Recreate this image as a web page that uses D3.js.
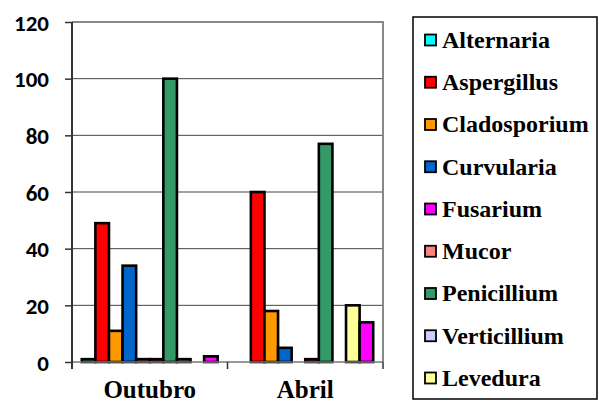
<!DOCTYPE html>
<html><head><meta charset="utf-8">
<script src="https://cdn.jsdelivr.net/npm/d3@7/dist/d3.min.js"></script>
<style>
body{margin:0;background:#fff;}
svg text.serif{font-family:"Liberation Serif","Times New Roman",serif !important;font-weight:bold !important;}
svg text.calib{font-family:Carlito,"Liberation Sans",sans-serif !important;font-weight:bold !important;}
</style>
</head><body>
<svg id="c" width="599" height="403"></svg>
<script>
const categories = ["Outubro", "Abril"];
// bar order as drawn
const seriesNames = ["Alternaria","Aspergillus","Cladosporium","Curvularia","Mucor","Outros","Penicillium","Verticillium","Levedura","Fusarium"];
const seriesColors = ["#00FFFF","#FF0000","#FF9900","#0066CC","#FF8080","#993366","#339966","#CCCCFF","#FFFF99","#FF00FF"];
const outubroValues = [1, 49, 11, 34, 1, 1, 100, 1, 0, 2];
const abrilValues   = [0, 60, 18, 5, 0, 1, 77, 0, 20, 14];
const legendNames = ["Alternaria","Aspergillus","Cladosporium","Curvularia","Fusarium","Mucor","Penicillium","Verticillium","Levedura"];
const yTicks = [0, 20, 40, 60, 80, 100, 120];

const values = [outubroValues, abrilValues];
const svg = d3.select("#c");
const L = 72, R = 383, T = 22, B = 362;

const x0 = d3.scaleBand().domain(categories).range([L, R]).padding(0);
const x1 = d3.scaleBand().domain(seriesNames).range([0, x0.bandwidth()]).paddingInner(0).paddingOuter(0.72);
const y = d3.scaleLinear().domain([0, 120]).range([B, T]);

// gridlines
svg.append("g").selectAll("line").data(yTicks.filter(d => d > 0 && d < 120)).join("line")
  .attr("x1", L).attr("x2", R).attr("y1", d => y(d)).attr("y2", d => y(d))
  .attr("stroke", "#444").attr("stroke-width", 1);

// plot border top/right
svg.append("path").attr("d", `M${L},${T}H${R}V${B}`).attr("fill", "none").attr("stroke", "#888").attr("stroke-width", 2);

// bars
const g = svg.append("g");
categories.forEach((c, ci) => {
  g.append("g").attr("transform", `translate(${x0(c)},0)`)
    .selectAll("rect").data(seriesNames.map((s, si) => ({s, si, v: values[ci][si]})).filter(d => d.v > 0)).join("rect")
    .attr("x", d => x1(d.s)).attr("width", x1.bandwidth())
    .attr("y", d => y(d.v)).attr("height", d => y(0) - y(d.v))
    .attr("fill", d => seriesColors[d.si]).attr("stroke", "#000").attr("stroke-width", 2.6);
});

// x baseline
svg.append("line").attr("x1", L).attr("x2", R).attr("y1", B).attr("y2", B).attr("stroke", "#777").attr("stroke-width", 1.5);
// category ticks
const xt = [L, x0("Abril"), R];
svg.append("g").selectAll("line").data(xt).join("line")
  .attr("x1", d => d).attr("x2", d => d).attr("y1", B).attr("y2", B + 7)
  .attr("stroke", "#333").attr("stroke-width", 1.5);

// y axis
const yAxis = d3.axisLeft(y).tickValues(yTicks).tickSize(7).tickPadding(16);
const ya = svg.append("g").attr("transform", `translate(${L},0)`).call(yAxis);
ya.attr("font-family", null).attr("font-size", null);
ya.select(".domain").attr("d", `M0,${T}V${B + 7}`).attr("stroke", "#333").attr("stroke-width", 2);
ya.selectAll(".tick line").attr("stroke", "#333").attr("stroke-width", 1.5);
ya.selectAll(".tick text").attr("class", "calib").style("font-size", "23px").attr("fill", "#000").attr("dy", "0.35em");

// x labels
svg.append("g").selectAll("text").data(categories).join("text")
  .attr("class", "serif")
  .attr("x", d => x0(d) + x0.bandwidth() / 2).attr("y", 398)
  .attr("text-anchor", "middle").style("font-size", "25px").text(d => d);

// legend
const lg = svg.append("g");
lg.append("rect").attr("x", 413).attr("y", 17).attr("width", 184).attr("height", 382)
  .attr("fill", "#fff").attr("stroke", "#000").attr("stroke-width", 1.5);
const ly = d3.scalePoint().domain(legendNames).range([40, 378]);
const items = lg.selectAll("g.item").data(legendNames).join("g").attr("class", "item")
  .attr("transform", d => `translate(0,${ly(d)})`);
items.append("rect").attr("x", 425).attr("y", -5.5).attr("width", 11).attr("height", 11)
  .attr("fill", d => seriesColors[seriesNames.indexOf(d)]).attr("stroke", "#000").attr("stroke-width", 1.8);
items.append("text").attr("class", "serif").attr("x", 442).attr("y", 0).attr("dy", "0.33em")
  .style("font-size", "24px").text(d => d);
</script>
</body></html>
